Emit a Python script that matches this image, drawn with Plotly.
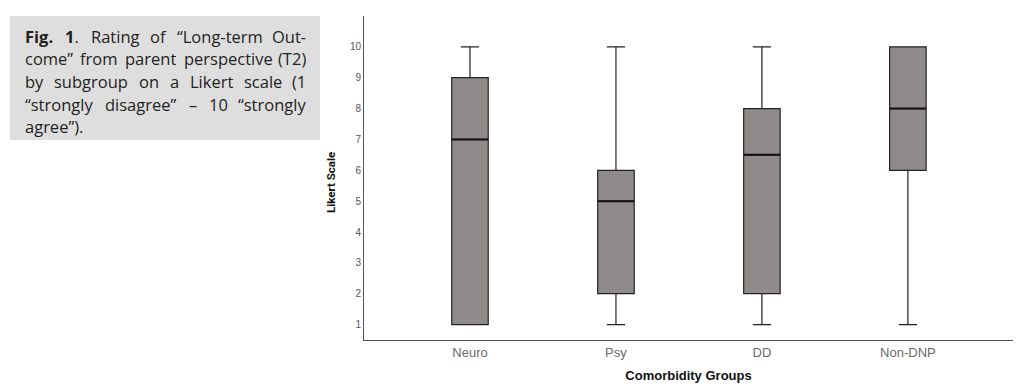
import plotly.graph_objects as go

categories = ["Neuro", "Psy", "DD", "Non-DNP"]
lower_whisker = [1, 1, 1, 1]
q1_values = [1, 2, 2, 6]
median_values = [7, 5, 6.5, 8]
q3_values = [9, 6, 8, 10]
upper_whisker = [10, 10, 10, 10]
y_ticks = [1, 2, 3, 4, 5, 6, 7, 8, 9, 10]

caption_lines = [
    ["<b>Fig.</b>", "<b>1</b>.", "Rating", "of", "“Long-term", "Out-"],
    ["come”", "from", "parent", "perspective", "(T2)"],
    ["by", "subgroup", "on", "a", "Likert", "scale", "(1"],
    ["“strongly", "disagree”", "–", "10", "“strongly"],
    ["agree”)."],
]

W, H = 1019, 390
L, R, T, B = 364, 6, 16, 50
pw, ph = W - L - R, H - T - B
BOX_W = 0.25


def px_x(p):
    return (p - L) / pw


def px_y(p):
    return (H - B - p) / ph


# approximate Open Sans advance widths (em)
CW = {
    " ": 0.26, "a": 0.556, "b": 0.613, "c": 0.48, "d": 0.613, "e": 0.561, "f": 0.336,
    "g": 0.546, "h": 0.613, "i": 0.258, "j": 0.258, "k": 0.529, "l": 0.258, "m": 0.932,
    "n": 0.613, "o": 0.601, "p": 0.613, "q": 0.613, "r": 0.408, "s": 0.477, "t": 0.352,
    "u": 0.613, "v": 0.501, "w": 0.778, "x": 0.525, "y": 0.502, "z": 0.459,
    "F": 0.532, "L": 0.519, "O": 0.78, "R": 0.618, "T": 0.556,
    "0": 0.571, "1": 0.571, "2": 0.571, "(": 0.296, ")": 0.296, "-": 0.322,
    ".": 0.268, "“": 0.35, "”": 0.35, "–": 0.5,
}


def word_width(w, size):
    bold = w.startswith("<b>")
    t = w.replace("<b>", "").replace("</b>", "")
    return sum(CW.get(c, 0.56) for c in t) * size * (1.08 if bold else 1.0)


fig = go.Figure()
xs = list(range(len(categories)))
fig.add_trace(go.Box(
    x=xs,
    q1=q1_values,
    median=median_values,
    q3=q3_values,
    lowerfence=lower_whisker,
    upperfence=upper_whisker,
    width=BOX_W,
    whiskerwidth=0.5,
    fillcolor="#8f8b8a",
    line=dict(color="#222222", width=1.2),
    boxpoints=False,
    hoverinfo="skip",
    showlegend=False,
))

# thicker median lines
mx, my = [], []
for i, m in enumerate(median_values):
    mx += [i - BOX_W / 2, i + BOX_W / 2, None]
    my += [m, m, None]
fig.add_trace(go.Scatter(x=mx, y=my, mode="lines",
                         line=dict(color="#111111", width=2),
                         hoverinfo="skip", showlegend=False))

fig.add_shape(type="rect", xref="paper", yref="paper",
              x0=px_x(10), x1=px_x(320), y0=px_y(140), y1=px_y(16),
              fillcolor="#dedede", line=dict(width=0), layer="below")

FS = 16.5
X0, X1 = 24, 307
for i, words in enumerate(caption_lines):
    yy = px_y(36 + i * 22.7)
    widths = [word_width(w, FS) for w in words]
    if len(words) > 1 and i < len(caption_lines) - 1:
        gap = (X1 - X0 - sum(widths)) / (len(words) - 1)
    else:
        gap = CW[" "] * FS
    pos = X0
    for j, w in enumerate(words):
        last = (j == len(words) - 1) and i < len(caption_lines) - 1 and len(words) > 1
        fig.add_annotation(
            text=w, xref="paper", yref="paper",
            x=px_x(X1 if last else pos), y=yy,
            xanchor="right" if last else "left", yanchor="middle",
            showarrow=False, borderpad=0,
            font=dict(family="Open Sans", size=FS, color="#231f20"),
        )
        pos += widths[j] + gap

# y-axis title as annotation (placed slightly below plot centre as in reference)
fig.add_annotation(
    text="<b>Likert Scale</b>", xref="paper", yref="paper",
    x=px_x(331), y=px_y(183), textangle=-90,
    xanchor="center", yanchor="middle", showarrow=False, borderpad=0,
    font=dict(family="Roboto", size=11.5, color="#111"),
)

fig.update_layout(
    width=W, height=H,
    margin=dict(l=L, r=R, t=T, b=B),
    paper_bgcolor="white", plot_bgcolor="white",
    font=dict(family="Liberation Sans, Arial", color="#333"),
)
fig.update_xaxes(
    range=[-0.726, 3.72],
    tickvals=xs, ticktext=categories,
    showline=True, linecolor="#555", linewidth=1,
    showgrid=False, zeroline=False, ticks="",
    tickfont=dict(size=13, color="#6a6a6a"),
    title=dict(text="<b>Comorbidity Groups</b>", font=dict(size=13, color="#111"), standoff=12),
)
fig.update_yaxes(
    range=[0.5, 11], tickvals=y_ticks,
    showline=True, linecolor="#555", linewidth=1,
    showgrid=False, zeroline=False, ticks="",
    tickfont=dict(size=10, color="#555"),
)

fig.write_html("out.html", config={"displayModeBar": False},
               post_script="document.body.style.margin='0';")
